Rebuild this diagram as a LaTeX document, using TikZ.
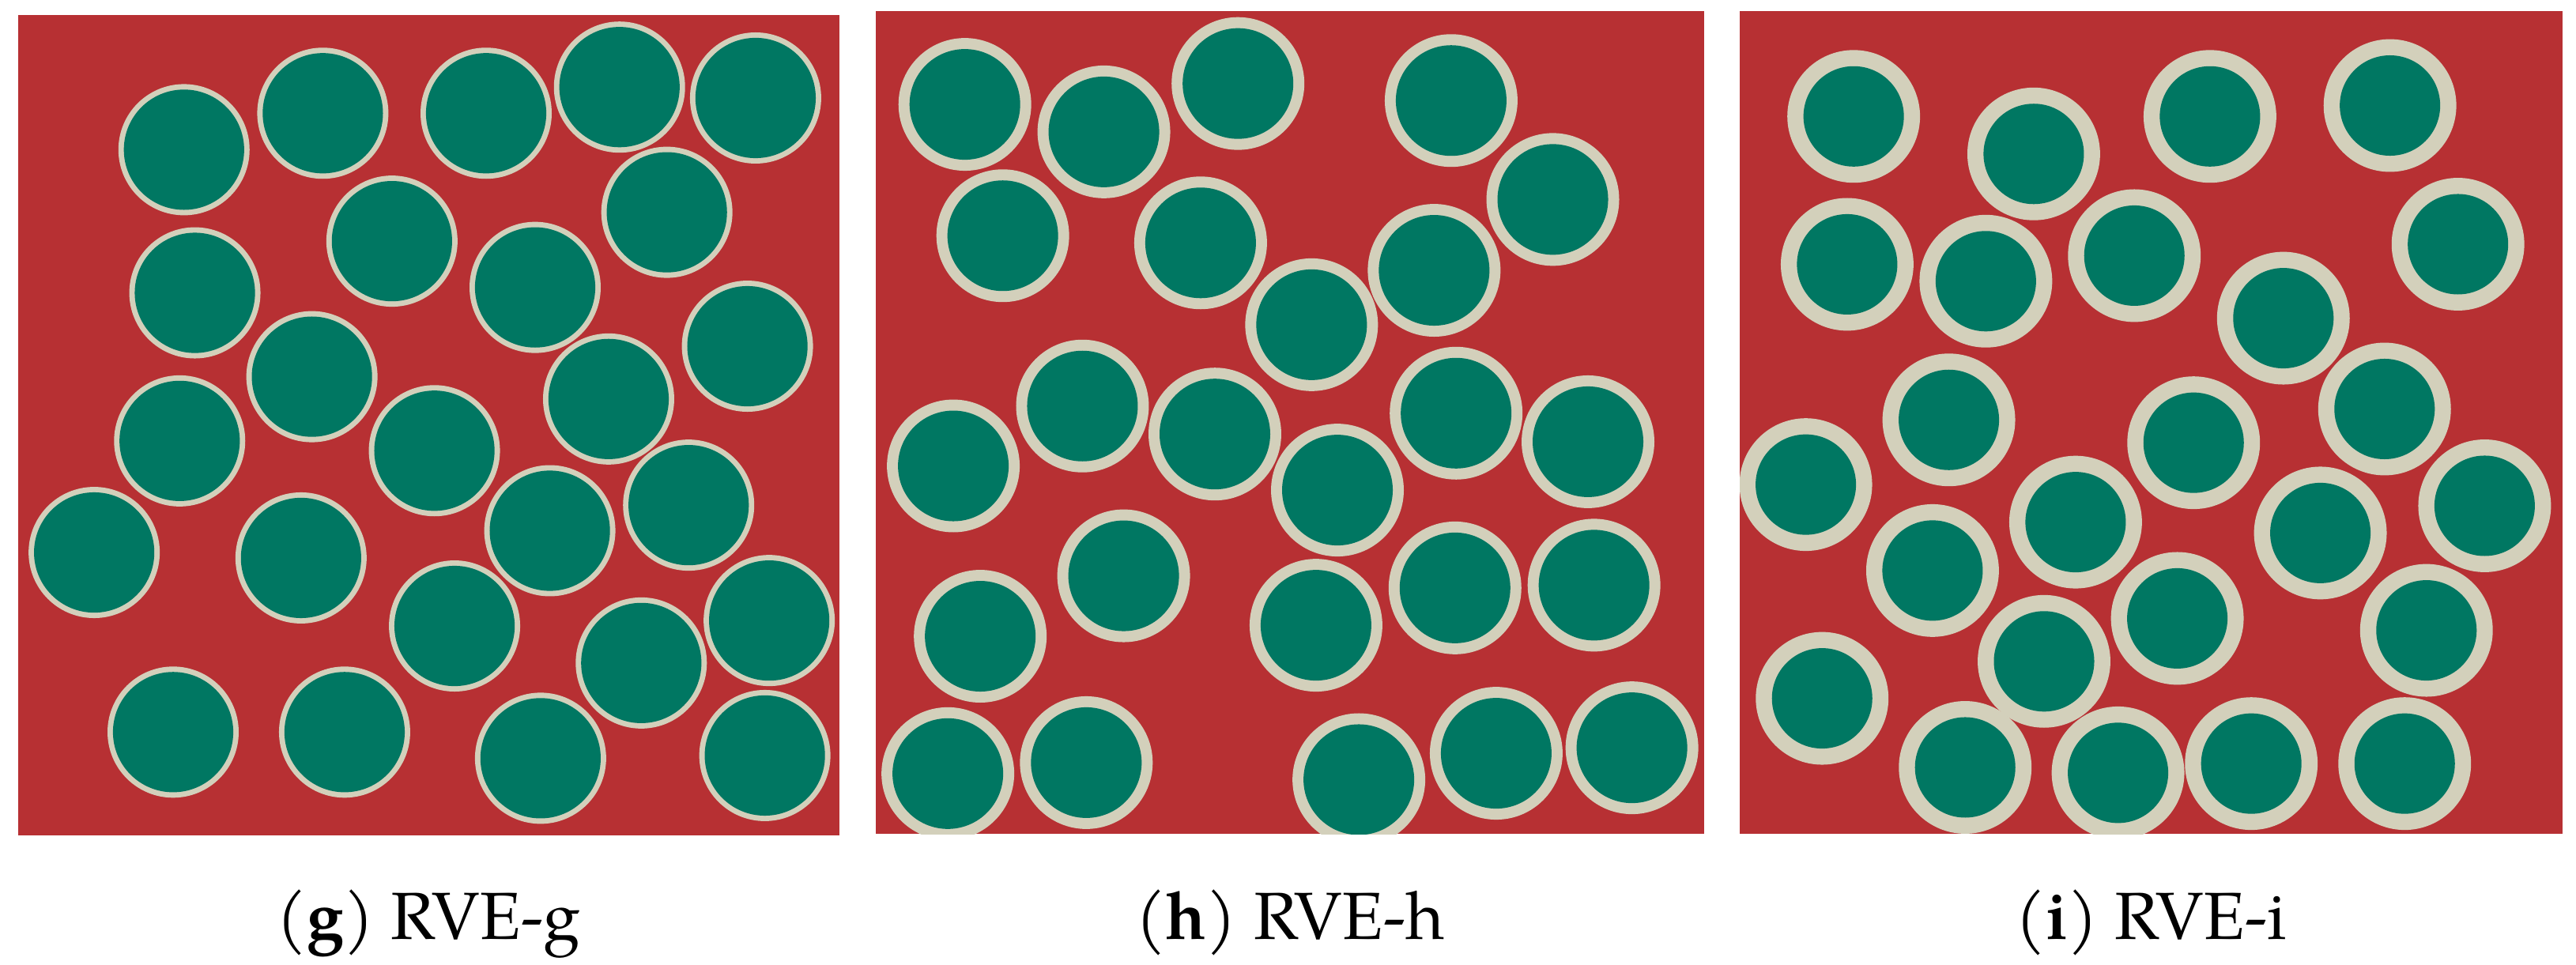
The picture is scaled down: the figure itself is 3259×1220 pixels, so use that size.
\documentclass[tikz,border=0pt]{standalone}
\usepackage{fontspec}
\setmainfont{TeX Gyre Pagella}
\definecolor{matred}{HTML}{B73033}
\definecolor{fibgreen}{HTML}{007762}
\definecolor{ringbeige}{HTML}{D3D0BB}
\tikzset{
  matrix panel/.style={fill=matred},
  ring/.style={fill=ringbeige},
  fibre/.style={fill=fibgreen},
  caption/.style={anchor=base, inner sep=0pt, font=\fontsize{24}{28}\selectfont}
}
\begin{document}
\begin{tikzpicture}[x=0.01cm,y=-0.01cm]
\useasboundingbox (0,0) rectangle (3259,1220);
\fill[white] (0,0) rectangle (3259,1220);

% ---------- panel g ----------
\begin{scope}
\clip (23,19) rectangle (1062,1057);
\fill[matrix panel] (23,19) rectangle (1062,1057);
\begin{scope}[scale=0.68871]
\foreach \x/\y in {338/275,593/208,893/208,1138/160,1388/180,1225/390,720/443,983/528,358/538,1373/636,573/692,1118/733,330/810,798/828,1265/928,1010/975,173/1015,553/1025,835/1150,1413/1140,1178/1218,318/1345,633/1345,993/1393,1405/1388}
{
  \fill[ring] (\x,\y) circle[radius=120.5];
  \fill[fibre] (\x,\y) circle[radius=110.5];
}
\end{scope}
\end{scope}

% ---------- panel h ----------
\begin{scope}
\clip (1108,14) rectangle (2156,1055);
\fill[matrix panel] (1108,14) rectangle (2156,1055);
\begin{scope}[shift={(1090,0)},scale=0.69517]
\foreach \x/\y in {188/190,441/240,685/152,1073/183,257/429,617/442,1258/363,1042/492,819/591,402/739,643/790,1082/752,1322/804,167/848,866/892,477/1048,1080/1070,1333/1065,216/1158,827/1138,157/1408,409/1388,905/1419,1155/1371,1402/1361}
{
  \fill[ring] (\x,\y) circle[radius=120.8];
  \fill[fibre] (\x,\y) circle[radius=100.7];
}
\end{scope}
\end{scope}

% ---------- panel i ----------
\begin{scope}
\clip (2201,14) rectangle (3242,1055);
\fill[matrix panel] (2201,14) rectangle (3242,1055);
\begin{scope}[shift={(2180,0)},scale=0.68814]
\foreach \x/\y in {240/214,571/283,895/214,1226/194,228/486,483/517,756/470,1351/449,1030/585,415/772,1216/752,865/814,152/891,1400/930,648/960,1098/980,385/1049,835/1137,1293/1159,590/1216,182/1284,445/1411,726/1421,971/1404,1253/1404}
{
  \fill[ring] (\x,\y) circle[radius=122];
  \fill[fibre] (\x,\y) circle[radius=92.3];
}
\end{scope}
\end{scope}

% ---------- captions ----------
\node[caption] (capg) at (542,1188) {(\textbf{g}) RVE-g};
\node[caption] (caph) at (1632,1188) {(\textbf{h}) RVE-h};
\node[caption] (capi) at (2721,1188) {(\textbf{i}) RVE-i};
\end{tikzpicture}
\end{document}
